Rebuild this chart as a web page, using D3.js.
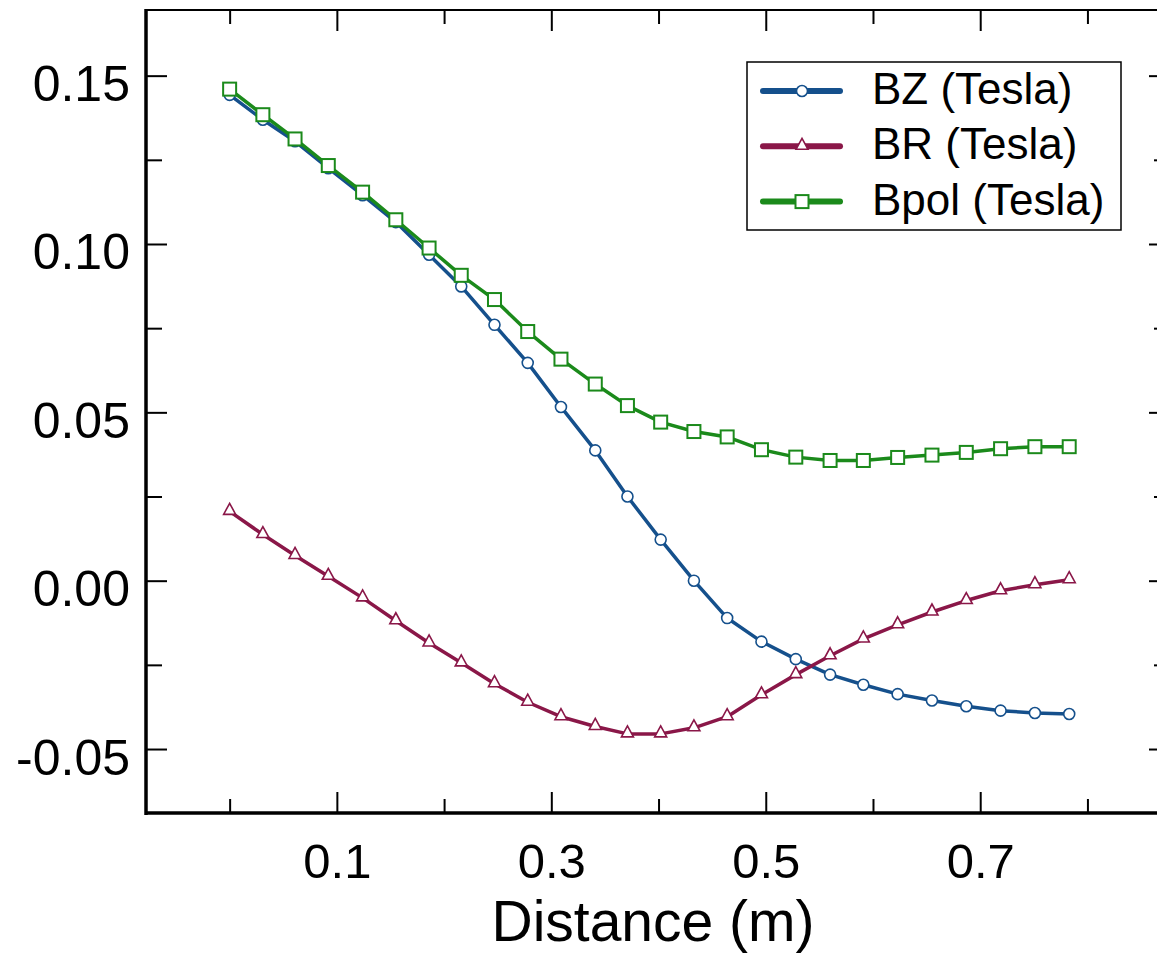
<!DOCTYPE html>
<html>
<head>
    <title>Magnetic field vs distance</title>
    <script src="https://cdnjs.cloudflare.com/ajax/libs/d3/7.8.5/d3.min.js"></script>
    <style>
        body {
            margin: 0;
            background: white;
        }
        svg {
            display: block;
            font-family: "Liberation Sans", Arial, sans-serif;
        }
        .tick line {
            stroke: #000;
            stroke-width: 2;
        }
        .tick text {
            fill: #000;
        }
        .frame {
            stroke: #000;
            fill: none;
        }
        .legend-text {
            font-size: 44px;
            fill: #000;
        }
    </style>
</head>
<body>
    <div id="chart"></div>

    <script>
        // Data
        const distance = [0.000, 0.031, 0.061, 0.092, 0.124, 0.155, 0.186, 0.216, 0.247, 0.278, 0.309,
                          0.341, 0.371, 0.402, 0.433, 0.464, 0.496, 0.528, 0.560, 0.591, 0.623, 0.655,
                          0.687, 0.719, 0.751, 0.783];
        const bz = [0.1443, 0.1369, 0.1305, 0.1225, 0.1145, 0.1065, 0.0968, 0.0874, 0.0760, 0.0647, 0.0516,
                    0.0387, 0.0250, 0.0122, 0.0000, -0.0111, -0.0181, -0.0233, -0.0279, -0.0309, -0.0337,
                    -0.0356, -0.0373, -0.0386, -0.0393, -0.0396];
        const br = [0.0206, 0.0137, 0.0075, 0.0013, -0.0051, -0.0119, -0.0185, -0.0244, -0.0306, -0.0361, -0.0404,
                    -0.0433, -0.0455, -0.0455, -0.0437, -0.0404, -0.0339, -0.0279, -0.0223, -0.0173, -0.0131,
                    -0.0093, -0.0059, -0.0030, -0.0012, 0.0003];
        const bpol = [0.1460, 0.1384, 0.1312, 0.1233, 0.1154, 0.1072, 0.0988, 0.0907, 0.0835, 0.0740, 0.0658,
                      0.0584, 0.0520, 0.0471, 0.0443, 0.0427, 0.0389, 0.0367, 0.0357, 0.0357, 0.0366,
                      0.0373, 0.0381, 0.0392, 0.0398, 0.0398];
        const seriesNames = ['BZ (Tesla)', 'BR (Tesla)', 'Bpol (Tesla)'];

        const xMajor = [0.1, 0.3, 0.5, 0.7];
        const xMinor = [0.0, 0.2, 0.4, 0.6, 0.8];
        const yMajor = [0.15, 0.10, 0.05, 0.00, -0.05];
        const yMinor = [0.125, 0.075, 0.025, -0.025];

        // Setup
        const W = 1157, H = 953;
        const plotLeft = 146, plotRight = 1170, plotTop = 10, plotBottom = 813;

        const svg = d3.select('#chart')
            .append('svg')
            .attr('width', W)
            .attr('height', H);

        const x = d3.scaleLinear().domain([-0.078, 0.877]).range([plotLeft, plotRight]);
        const y = d3.scaleLinear().domain([-0.069, 0.1695]).range([plotBottom, plotTop]);

        const colors = ['#15508c', '#8a1748', '#1b8a1b'];
        const markers = ['circle', 'triangle', 'square'];

        // Axes: ticks point inward on all four sides
        function drawAxis(axis, tx, ty, cls) {
            const g = svg.append('g')
                .attr('class', cls)
                .attr('transform', `translate(${tx},${ty})`)
                .call(axis);
            g.select('.domain').remove();
            return g;
        }

        const fmtY = d => d.toFixed(2);
        const fmtX = d => d.toFixed(1);

        const xb = drawAxis(d3.axisBottom(x).tickValues(xMajor).tickSizeInner(-21).tickSizeOuter(0)
            .tickFormat(fmtX), 0, plotBottom, 'x-axis');
        xb.selectAll('text')
            .attr('y', 65)
            .attr('dy', null)
            .style('font-size', '49px');
        drawAxis(d3.axisBottom(x).tickValues(xMinor).tickSizeInner(-14).tickSizeOuter(0).tickFormat(''), 0, plotBottom, 'x-minor');
        drawAxis(d3.axisTop(x).tickValues(xMajor).tickSizeInner(-21).tickSizeOuter(0).tickFormat(''), 0, plotTop, 'x-top');
        drawAxis(d3.axisTop(x).tickValues(xMinor).tickSizeInner(-14).tickSizeOuter(0).tickFormat(''), 0, plotTop, 'x-top-minor');

        const yl = drawAxis(d3.axisLeft(y).tickValues(yMajor).tickSizeInner(-21).tickSizeOuter(0)
            .tickFormat(fmtY), plotLeft, 0, 'y-axis');
        yl.selectAll('text')
            .attr('x', -16)
            .attr('dy', 25)
            .style('font-size', '50px');
        drawAxis(d3.axisLeft(y).tickValues(yMinor).tickSizeInner(-16).tickSizeOuter(0).tickFormat(''), plotLeft, 0, 'y-minor');
        drawAxis(d3.axisRight(y).tickValues(yMajor).tickSizeInner(-21).tickSizeOuter(0).tickFormat(''), plotRight, 0, 'y-right');
        drawAxis(d3.axisRight(y).tickValues(yMinor).tickSizeInner(-16).tickSizeOuter(0).tickFormat(''), plotRight, 0, 'y-right-minor');

        // Frame (left and bottom heavier)
        svg.append('line').attr('class', 'frame').attr('x1', plotLeft).attr('x2', plotRight).attr('y1', plotTop).attr('y2', plotTop).attr('stroke-width', 2);
        svg.append('line').attr('class', 'frame').attr('x1', plotRight).attr('x2', plotRight).attr('y1', plotTop).attr('y2', plotBottom).attr('stroke-width', 2);
        svg.append('line').attr('class', 'frame').attr('x1', plotLeft).attr('x2', plotLeft).attr('y1', plotTop - 1).attr('y2', plotBottom + 2).attr('stroke-width', 3.5);
        svg.append('line').attr('class', 'frame').attr('x1', plotLeft).attr('x2', plotRight).attr('y1', plotBottom).attr('y2', plotBottom).attr('stroke-width', 3.5);

        // Axis title
        svg.append('text')
            .attr('x', (plotLeft + 1160) / 2)
            .attr('y', 940.5)
            .attr('text-anchor', 'middle')
            .style('font-size', '57px')
            .text('Distance (m)');

        // Marker drawing
        function drawMarker(g, type, cx, cy, color) {
            if (type === 'circle') {
                g.append('circle')
                    .attr('cx', cx).attr('cy', cy).attr('r', 5.5)
                    .attr('fill', 'white').attr('stroke', color).attr('stroke-width', 1.6);
            } else if (type === 'triangle') {
                g.append('path')
                    .attr('d', `M${cx},${cy - 8}L${cx + 6},${cy + 3}L${cx - 6},${cy + 3}Z`)
                    .attr('fill', 'white').attr('stroke', color).attr('stroke-width', 1.6);
            } else {
                g.append('rect')
                    .attr('x', cx - 6.5).attr('y', cy - 6.5).attr('width', 13).attr('height', 13)
                    .attr('fill', 'white').attr('stroke', color).attr('stroke-width', 2);
            }
        }

        // Series
        const allSeries = [bz, br, bpol];
        const line = d3.line()
            .x((d, i) => x(distance[i]))
            .y(d => y(d));

        allSeries.forEach((values, s) => {
            const g = svg.append('g').attr('class', 'series');
            g.append('path')
                .datum(values)
                .attr('fill', 'none')
                .attr('stroke', colors[s])
                .attr('stroke-width', 3.5)
                .attr('stroke-linejoin', 'round')
                .attr('d', line);
            values.forEach((v, i) => drawMarker(g, markers[s], x(distance[i]), y(v), colors[s]));
        });

        // Legend
        const legend = svg.append('g').attr('class', 'legend');
        legend.append('rect')
            .attr('x', 747).attr('y', 62)
            .attr('width', 374).attr('height', 168)
            .attr('fill', 'white').attr('stroke', '#000').attr('stroke-width', 1.5);

        seriesNames.forEach((name, s) => {
            const cy = 91 + s * 55.3;
            legend.append('line')
                .attr('x1', 763).attr('x2', 840)
                .attr('y1', cy).attr('y2', cy)
                .attr('stroke', colors[s])
                .attr('stroke-width', 6)
                .attr('stroke-linecap', 'round');
            drawMarker(legend, markers[s], 802, cy, colors[s]);
            legend.append('text')
                .attr('class', 'legend-text')
                .attr('x', 872)
                .attr('y', cy + 13)
                .text(name);
        });
    </script>
</body>
</html>
